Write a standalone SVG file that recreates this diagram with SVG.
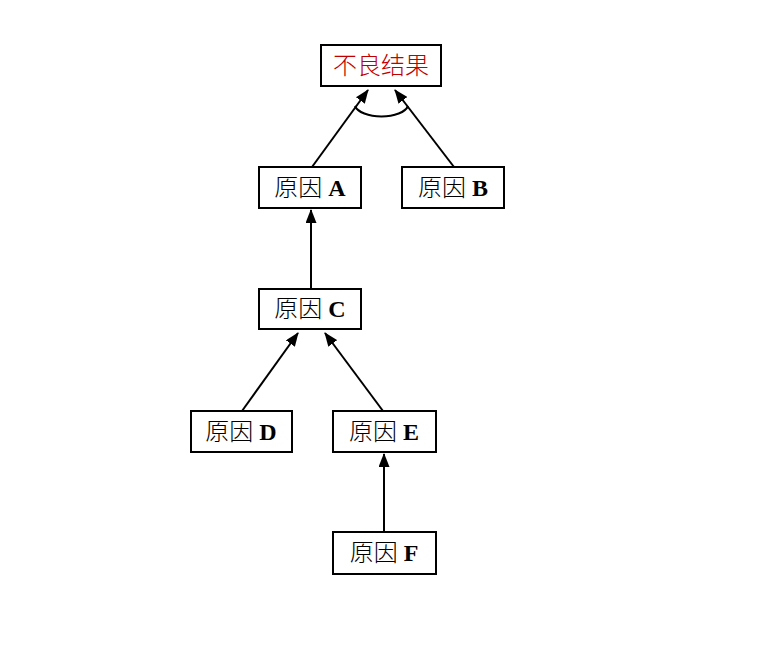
<svg xmlns="http://www.w3.org/2000/svg" width="783" height="664" viewBox="0 0 783 664">
<style>
.box{fill:#fff;stroke:#000;stroke-width:2}
.t{font-family:"Liberation Serif","Noto Sans CJK SC",serif;font-size:24px;text-anchor:middle;fill:#000}
.cn{font-family:"Noto Sans CJK SC",serif;font-weight:300}
.b{font-family:"Liberation Serif",serif;font-weight:bold}
.e{stroke:#000;stroke-width:2;fill:none}
</style>
<defs>
<marker id="ah" viewBox="0 0 14 11" refX="13" refY="5.5" markerWidth="14" markerHeight="11" markerUnits="userSpaceOnUse" orient="auto">
<path d="M0,0 L14,5.5 L0,11 z" fill="#000"/>
</marker>
</defs>
<rect width="783" height="664" fill="#fff"/>
<g id="connectors">
<line class="e" x1="312" y1="167" x2="368" y2="90" marker-end="url(#ah)"/>
<line class="e" x1="454" y1="167" x2="395" y2="90" marker-end="url(#ah)"/>
<path class="e" d="M355,106 A27,13 0 0 0 408,106"/>
<line class="e" x1="311" y1="289" x2="311" y2="210" marker-end="url(#ah)"/>
<line class="e" x1="242" y1="411" x2="298" y2="333" marker-end="url(#ah)"/>
<line class="e" x1="383" y1="411" x2="325" y2="333" marker-end="url(#ah)"/>
<line class="e" x1="384" y1="532" x2="384" y2="454" marker-end="url(#ah)"/>
</g>
<g id="result">
<rect class="box" x="321" y="45" width="120" height="41"/>
<text class="t cn" x="381" y="74" fill="#c00000" style="fill:#c00000">不良结果</text>
</g>
<g id="causeA">
<rect class="box" x="259" y="167" width="102" height="41"/>
<text class="t" x="310" y="196"><tspan class="cn">原因</tspan> <tspan class="b">A</tspan></text>
</g>
<g id="causeB">
<rect class="box" x="402" y="167" width="102" height="41"/>
<text class="t" x="453" y="196"><tspan class="cn">原因</tspan> <tspan class="b">B</tspan></text>
</g>
<g id="causeC">
<rect class="box" x="259" y="289" width="102" height="40"/>
<text class="t" x="310" y="317"><tspan class="cn">原因</tspan> <tspan class="b">C</tspan></text>
</g>
<g id="causeD">
<rect class="box" x="191" y="411" width="101" height="41"/>
<text class="t" x="241" y="440"><tspan class="cn">原因</tspan> <tspan class="b">D</tspan></text>
</g>
<g id="causeE">
<rect class="box" x="333" y="411" width="103" height="41"/>
<text class="t" x="384" y="440"><tspan class="cn">原因</tspan> <tspan class="b">E</tspan></text>
</g>
<g id="causeF">
<rect class="box" x="333" y="532" width="103" height="42"/>
<text class="t" x="384" y="561"><tspan class="cn">原因</tspan> <tspan class="b">F</tspan></text>
</g>
</svg>
